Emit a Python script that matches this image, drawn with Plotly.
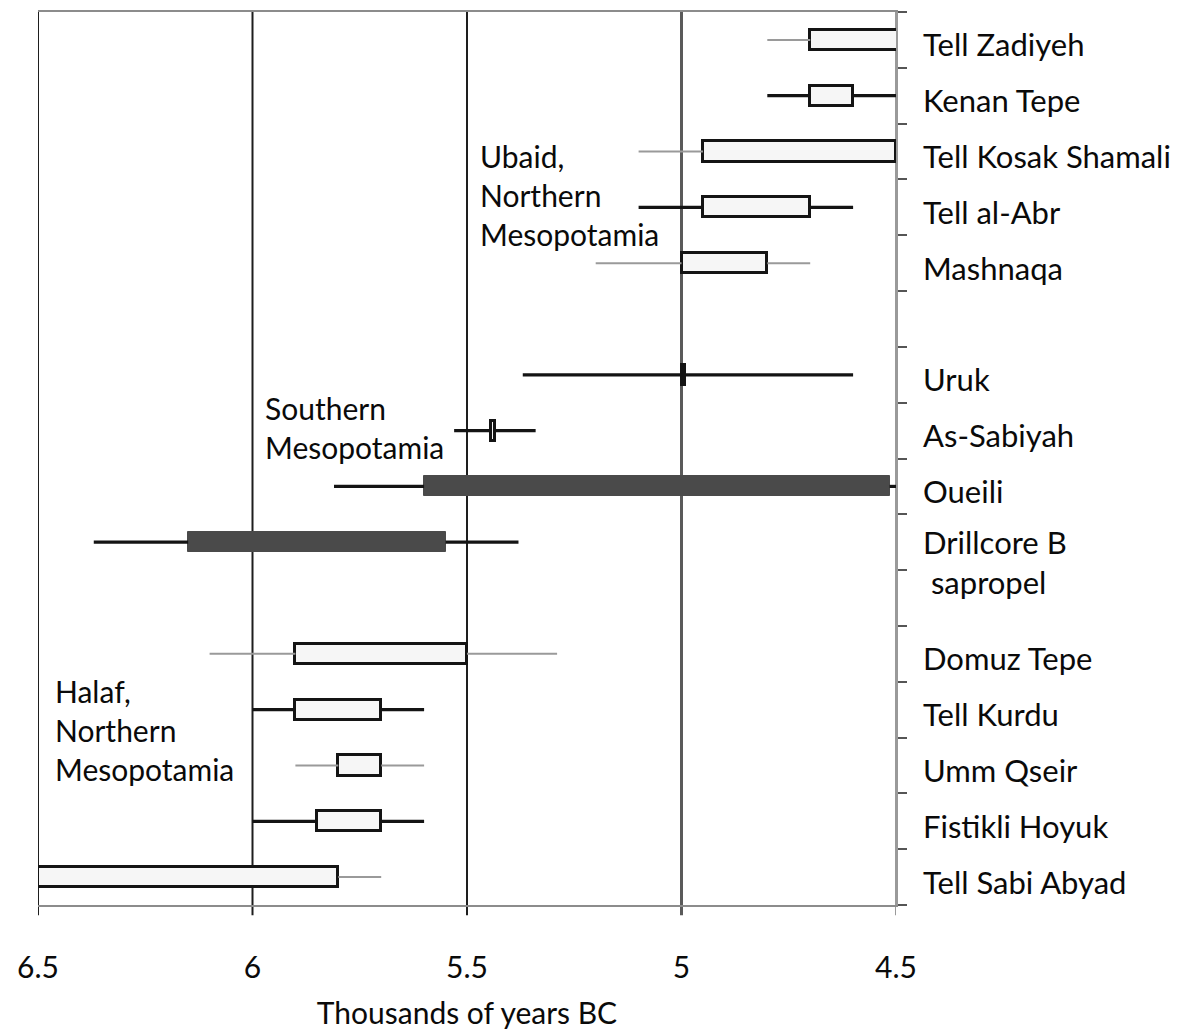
import plotly.graph_objects as go

# ---- data (thousands of years BC) ----
sites = ["Tell Zadiyeh", "Kenan Tepe", "Tell Kosak Shamali", "Tell al-Abr", "Mashnaqa", "",
         "Uruk", "As-Sabiyah", "Oueili", "Drillcore B<br> sapropel", "",
         "Domuz Tepe", "Tell Kurdu", "Umm Qseir", "Fistikli Hoyuk", "Tell Sabi Abyad"]
range_old = [4.80, 4.80, 5.10, 5.10, 5.20, None, 5.37, 5.53, 5.81, 6.37, None,
             6.10, 6.00, 5.90, 6.00, 6.55]
range_young = [4.45, 4.45, 4.45, 4.60, 4.70, None, 4.60, 5.34, 4.45, 5.38, None,
               5.29, 5.60, 5.60, 5.60, 5.70]
core_old = [4.70, 4.70, 4.95, 4.95, 5.00, None, 4.999, 5.443, 5.60, 6.15, None,
            5.90, 5.90, 5.80, 5.85, 6.50]
core_young = [4.45, 4.60, 4.50, 4.70, 4.80, None, 4.991, 5.435, 4.515, 5.55, None,
              5.50, 5.70, 5.70, 5.70, 5.80]
range_style = ["thin", "thick", "thin", "thick", "thin", None, "thick", "thick", "thick", "thick", None,
               "thin", "thick", "thin", "thick", "thin"]
core_style = ["light", "light", "light", "light", "light", None, "light", "light", "dark", "dark", None,
              "light", "light", "light", "light", "light"]
x_ticks = [6.5, 6.0, 5.5, 5.0, 4.5]
x_ticktext = ["6.5", "6", "5.5", "5", "4.5"]
group_labels = ["Ubaid,<br>Northern<br>Mesopotamia", "Southern<br>Mesopotamia", "Halaf,<br>Northern<br>Mesopotamia"]
group_x = [5.475, 5.975, 6.465]
group_y = [2.78, 6.95, 12.36]

FONT = "Lato"
n = len(sites)
rows = list(range(n))

fig = go.Figure()

# whiskers (drawn outside the box so the box fill stays clean)
whisker_styles = {"thin": dict(color="#9a9a9a", width=2), "thick": dict(color="#141414", width=3.2)}
for st, ln in whisker_styles.items():
    xs, ys = [], []
    for i in rows:
        if range_style[i] != st:
            continue
        xs += [range_old[i], core_old[i], None, core_young[i], range_young[i], None]
        ys += [i, i, None, i, i, None]
    fig.add_trace(go.Scatter(x=xs, y=ys, mode="lines", line=ln, showlegend=False,
                             hoverinfo="skip"))

# boxes
box_styles = {"light": dict(color="#f6f6f6", line=dict(color="#141414", width=3)),
              "dark": dict(color="#4a4a4a", line=dict(color="#4a4a4a", width=1))}
for st, mk in box_styles.items():
    ys = [i for i in rows if core_style[i] == st]
    fig.add_trace(go.Bar(orientation="h", y=ys,
                         base=[core_young[i] for i in ys],
                         x=[core_old[i] - core_young[i] for i in ys],
                         width=0.36, marker=mk, showlegend=False, hoverinfo="skip"))

# dummy trace for boundary-tick axis
fig.add_trace(go.Scatter(x=[None], y=[None], yaxis="y2", showlegend=False, hoverinfo="skip"))

# vertical reference lines at the x ticks
line_cols = {6.5: ("#1e1e1e", 2), 6.0: ("#1e1e1e", 2), 5.5: ("#1e1e1e", 2),
             5.0: ("#5a5a5a", 3), 4.5: ("#9a9a9a", 2)}
for xv in x_ticks:
    c, w = line_cols[xv]
    fig.add_shape(type="line", xref="x", yref="paper", x0=xv, x1=xv, y0=-0.0115, y1=1,
                  line=dict(color=c, width=w), layer="below")

label_pos = [i + (0.38 if "<br>" in s else 0.1) for i, s in enumerate(sites) if s]
label_txt = [s for s in sites if s]

for txt, gx, gy in zip(group_labels, group_x, group_y):
    fig.add_annotation(text=txt, x=gx, y=gy, xref="x", yref="y", xanchor="left",
                       yanchor="middle", align="left", showarrow=False,
                       font=dict(family=FONT, size=30, color="#0a0a0a"))

# the page body adds an 8px margin, so the figure is 8px smaller and margins shifted
fig.update_layout(
    width=1186, height=1023,
    margin=dict(l=30, r=298, t=2, b=126),
    paper_bgcolor="white", plot_bgcolor="white",
    barmode="overlay", bargap=0,
    font=dict(family=FONT, size=30, color="#0a0a0a"),
    xaxis=dict(range=[6.5, 4.5], tickmode="array", tickvals=x_ticks, ticktext=x_ticktext,
               ticks="", showgrid=False, zeroline=False, showline=True, mirror=True,
               linecolor="#8c8c8c", linewidth=2, ticklabelstandoff=35,
               tickfont=dict(family=FONT, size=30, color="#0a0a0a"),
               title=dict(text="Thousands of years BC", standoff=20,
                          font=dict(family=FONT, size=30, color="#0a0a0a"))),
    yaxis=dict(range=[15.5, -0.5], side="right", tickmode="array", tickvals=label_pos,
               ticktext=label_txt, ticks="", showgrid=False, zeroline=False, showline=False,
               ticklabelstandoff=26,
               tickfont=dict(family=FONT, size=31, color="#0a0a0a")),
    yaxis2=dict(range=[15.5, -0.5], overlaying="y", side="right", anchor="x",
                tickmode="array", tickvals=[k - 0.5 for k in range(n + 1)],
                ticks="outside", ticklen=9, tickwidth=2, tickcolor="#555555",
                showticklabels=False, showgrid=False, zeroline=False,
                showline=True, linecolor="#9a9a9a", linewidth=2),
)

fig.write_html("out.html")
